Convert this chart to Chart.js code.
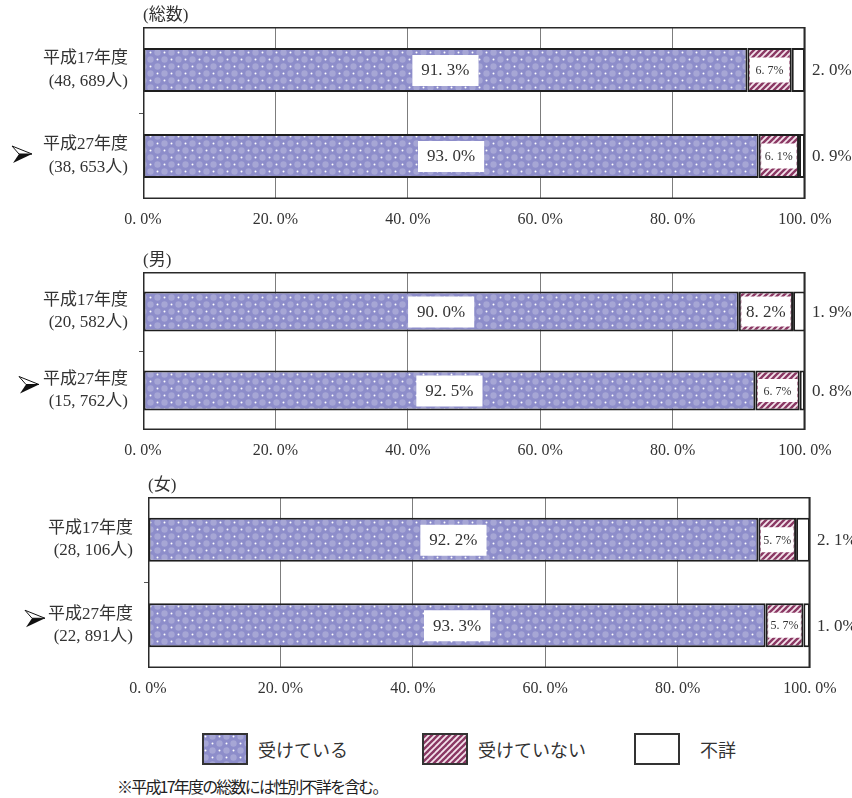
<!DOCTYPE html>
<html>
<head>
<meta charset="utf-8">
<script src="https://cdn.jsdelivr.net/npm/chart.js@4.4.1/dist/chart.umd.min.js"></script>
<style>
  body { margin: 0; background: #fff; width: 852px; height: 798px; position: relative; overflow: hidden; }
  canvas.panel { position: absolute; left: 0; }
  .swatch { position: absolute; }
  .legtext { position: absolute; font: 18px "Noto Sans CJK JP", sans-serif; color: #333; line-height: 20px; }
  .note { position: absolute; left: 117px; top: 776px; font: 16px "Noto Sans CJK JP", sans-serif; letter-spacing: -1.8px; color: #222; line-height: 20px; white-space: nowrap; }
</style>
</head>
<body>
<canvas id="pTotal" class="panel" width="852" height="235" style="top:0px"></canvas>
<canvas id="pMale" class="panel" width="852" height="225" style="top:245px"></canvas>
<canvas id="pFemale" class="panel" width="852" height="240" style="top:470px"></canvas>

<canvas id="sw0" class="swatch" width="46" height="32" style="left:202px;top:733px"></canvas>
<div class="legtext" style="left:258px;top:739px">受けている</div>
<canvas id="sw1" class="swatch" width="46" height="32" style="left:422px;top:733px"></canvas>
<div class="legtext" style="left:478px;top:739px">受けていない</div>
<canvas id="sw2" class="swatch" width="46" height="32" style="left:634px;top:733px"></canvas>
<div class="legtext" style="left:700px;top:739px">不詳</div>

<div class="note">※平成17年度の総数には性別不詳を含む。</div>

<script>
// categories and series
const yearLabels = ['平成17年度', '平成27年度'];
const seriesNames = ['受けている', '受けていない', '不詳'];

const totalCounts = ['48,689', '38,653'];
const totalYes = [91.3, 93.0];
const totalNo = [6.7, 6.1];
const totalUnknown = [2.0, 0.9];

const maleCounts = ['20,582', '15,762'];
const maleYes = [90.0, 92.5];
const maleNo = [8.2, 6.7];
const maleUnknown = [1.9, 0.8];

const femaleCounts = ['28,106', '22,891'];
const femaleYes = [92.2, 93.3];
const femaleNo = [5.7, 5.7];
const femaleUnknown = [2.1, 1.0];

const xTicks = [0, 20, 40, 60, 80, 100];

const SERIF = '"Liberation Serif", "Noto Sans CJK JP", serif';
const TEXT = '#333';

const pct = v => v.toFixed(1).replace('.', '. ') + '%';
const countLabel = c => '(' + c.replace(',', ', ') + '人)';

// fill patterns
function dotPattern() {
  const c = document.createElement('canvas');
  c.width = 14; c.height = 14;
  const g = c.getContext('2d');
  g.fillStyle = '#8d8dca';
  g.fillRect(0, 0, 14, 14);
  g.fillStyle = 'rgba(255,255,255,0.22)';
  [[10.5, 3.5], [3.5, 10.5]].forEach(([x, y]) => { g.beginPath(); g.arc(x, y, 3.2, 0, Math.PI * 2); g.fill(); });
  g.fillStyle = '#fff';
  [[3.5, 3.5], [10.5, 10.5]].forEach(([x, y]) => { g.beginPath(); g.arc(x, y, 1, 0, Math.PI * 2); g.fill(); });
  return g.createPattern(c, 'repeat');
}

function hatchPattern() {
  const c = document.createElement('canvas');
  c.width = 6; c.height = 6;
  const g = c.getContext('2d');
  g.fillStyle = '#f4e4ec';
  g.fillRect(0, 0, 6, 6);
  g.strokeStyle = '#8a3763';
  g.lineWidth = 2.4;
  [[-6, 6, 6, -6], [0, 6, 6, 0], [0, 12, 12, 0]].forEach(([a, b, cc, d]) => {
    g.beginPath(); g.moveTo(a, b); g.lineTo(cc, d); g.stroke();
  });
  return g.createPattern(c, 'repeat');
}

const dots = dotPattern();
const hatch = hatchPattern();
const fills = [dots, hatch, '#fff'];

// legend swatches
fills.forEach((f, i) => {
  const g = document.getElementById('sw' + i).getContext('2d');
  g.fillStyle = f;
  g.fillRect(0, 0, 46, 32);
  g.strokeStyle = '#333';
  g.lineWidth = 2;
  g.strokeRect(1, 1, 44, 30);
});

function drawArrow(ctx, x, y) {
  ctx.save();
  ctx.lineJoin = 'miter';
  ctx.beginPath();
  ctx.moveTo(x + 20, y); ctx.lineTo(x, y - 8); ctx.lineTo(x + 7, y); ctx.closePath();
  ctx.fillStyle = '#fff'; ctx.fill();
  ctx.strokeStyle = '#111'; ctx.lineWidth = 1; ctx.stroke();
  ctx.beginPath();
  ctx.moveTo(x + 20, y); ctx.lineTo(x + 7, y); ctx.lineTo(x + 1, y + 9); ctx.closePath();
  ctx.fillStyle = '#111'; ctx.fill();
  ctx.restore();
}

const panelDecor = {
  id: 'panelDecor',
  afterDatasetsDraw(chart) {
    const ctx = chart.ctx;
    const area = chart.chartArea;
    ctx.save();
    ctx.textBaseline = 'middle';
    chart.data.datasets.forEach((ds, d) => {
      chart.getDatasetMeta(d).data.forEach((el, i) => {
        const p = el.getProps(['x', 'y', 'base', 'height'], true);
        const v = ds.data[i];
        const txt = pct(v);
        if (d === 0) {
          ctx.font = '17px ' + SERIF;
          const w = ctx.measureText(txt).width + 18;
          const cx = (p.x + p.base) / 2;
          ctx.fillStyle = '#fff';
          ctx.fillRect(cx - w / 2, p.y - 15, w, 31);
          ctx.fillStyle = TEXT; ctx.textAlign = 'center';
          ctx.fillText(txt, cx, p.y + 1);
        } else if (d === 1) {
          const segW = p.x - p.base;
          const big = segW >= 50;
          const bw = segW - 5;
          const bh = big ? p.height - 10 : Math.round(p.height * 0.57);
          const cx = (p.x + p.base) / 2;
          ctx.fillStyle = '#fff';
          ctx.fillRect(cx - bw / 2, p.y - bh / 2, bw, bh);
          ctx.font = (big ? 17 : 12) + 'px ' + SERIF;
          ctx.fillStyle = TEXT; ctx.textAlign = 'center';
          ctx.fillText(txt, cx, p.y + 1);
        } else {
          ctx.font = '17px ' + SERIF;
          ctx.fillStyle = TEXT; ctx.textAlign = 'left';
          ctx.fillText(txt, area.right + 7, p.y + 1);
        }
      });
    });
    ctx.restore();
  },
  afterDraw(chart, args, opts) {
    const ctx = chart.ctx;
    const a = chart.chartArea;
    ctx.save();
    ctx.strokeStyle = '#2a2a2a';
    ctx.lineWidth = 1.5;
    ctx.strokeRect(a.left + 0.75, a.top + 0.75, a.right - a.left - 1.5, a.bottom - a.top - 1.5);
    ctx.font = '17px ' + SERIF;
    ctx.fillStyle = TEXT;
    ctx.textAlign = 'left';
    ctx.textBaseline = 'middle';
    ctx.fillText(opts.title, a.left, a.top - 11);
    const yScale = chart.scales.y;
    drawArrow(ctx, opts.arrowX, yScale.getPixelForTick(1) + opts.arrowDy);
    ctx.restore();
  }
};

function makePanel(id, title, counts, yes, no, unknown, g) {
  return new Chart(document.getElementById(id), {
    type: 'bar',
    data: {
      labels: yearLabels.map((y, i) => [y, countLabel(counts[i])]),
      datasets: [yes, no, unknown].map((vals, k) => ({
        label: seriesNames[k],
        data: vals,
        backgroundColor: fills[k],
        borderColor: '#1e1e1e',
        borderWidth: 2,
        borderSkipped: false,
        categoryPercentage: 1,
        barPercentage: g.bar
      }))
    },
    options: {
      indexAxis: 'y',
      responsive: false,
      animation: false,
      layout: { padding: { top: g.top, right: g.right, left: 0, bottom: 0 } },
      plugins: {
        legend: { display: false },
        tooltip: { enabled: false },
        panelDecor: { title: title, arrowX: g.arrowX, arrowDy: g.arrowDy }
      },
      scales: {
        x: {
          stacked: true,
          min: 0,
          max: 100,
          afterBuildTicks: s => { s.ticks = xTicks.map(v => ({ value: v })); },
          ticks: { callback: v => pct(v), font: { family: SERIF, size: 16 }, color: TEXT, padding: 11, maxRotation: 0 },
          grid: { color: '#7d7d7d', drawTicks: false },
          border: { display: false },
          afterFit: s => { s.height = g.xh; s.paddingLeft = 0; s.paddingRight = 0; }
        },
        y: {
          stacked: true,
          ticks: { font: { family: SERIF, size: 17, lineHeight: 1.3 }, color: TEXT, padding: 11 },
          grid: {
            drawOnChartArea: false,
            tickLength: 4,
            color: c => (c.index === 1 ? '#555' : 'rgba(0,0,0,0)')
          },
          border: { display: false },
          afterFit: s => { s.width = g.left; s.paddingTop = 0; s.paddingBottom = 0; }
        }
      }
    },
    plugins: [panelDecor]
  });
}

makePanel('pTotal', '(総数)', totalCounts, totalYes, totalNo, totalUnknown,
  { left: 143, right: 47, top: 27, xh: 36, bar: 0.512, arrowX: 12, arrowDy: -2 });
makePanel('pMale', '(男)', maleCounts, maleYes, maleNo, maleUnknown,
  { left: 143, right: 47, top: 27, xh: 40, bar: 0.506, arrowX: 19, arrowDy: -6 });
makePanel('pFemale', '(女)', femaleCounts, femaleYes, femaleNo, femaleUnknown,
  { left: 148, right: 42, top: 27, xh: 42, bar: 0.515, arrowX: 25, arrowDy: -7 });
</script>
</body>
</html>
